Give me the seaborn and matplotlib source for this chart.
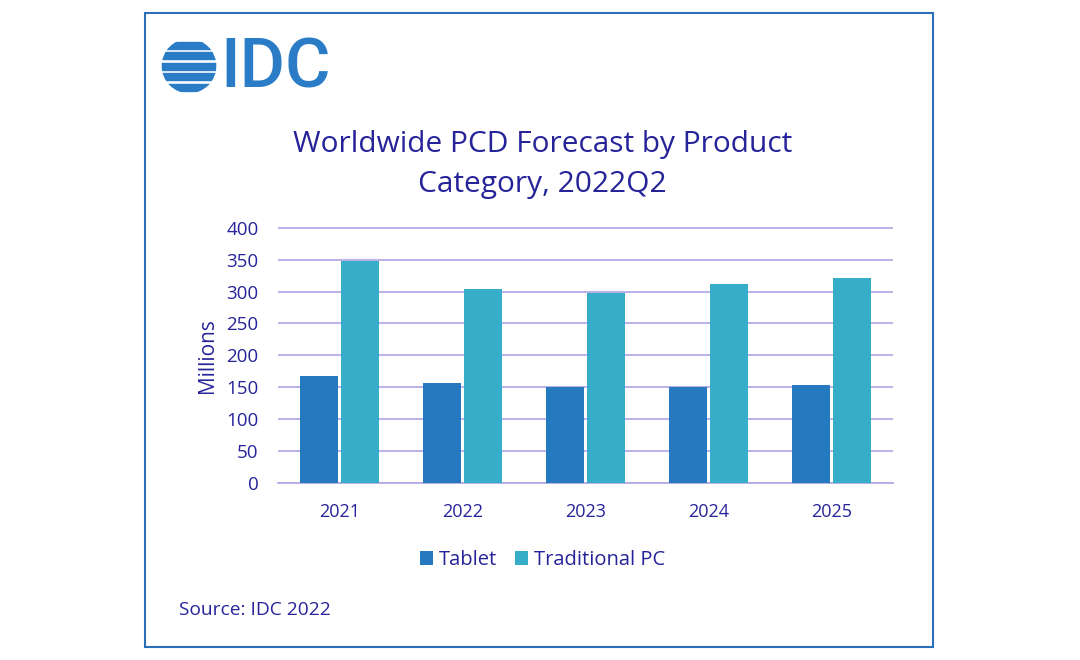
import seaborn as sns
import pandas as pd
import matplotlib.pyplot as plt
from matplotlib.patches import Rectangle, Circle

years = ["2021", "2022", "2023", "2024", "2025"]
tablet = [167, 157, 151, 151, 153]
traditional_pc = [348, 304, 297, 312, 321]
series = ["Tablet", "Traditional PC"]
colors = ["#2579be", "#36adc9"]
navy = "#27249a"

df = pd.DataFrame({
    "Year": years * 2,
    "Units": tablet + traditional_pc,
    "Product": [series[0]] * len(years) + [series[1]] * len(years),
})

sns.set_style("white")
plt.rcParams["font.family"] = ["Open Sans", "DejaVu Sans"]

fig = plt.figure(figsize=(10.8, 6.6), dpi=100)
ax = fig.add_axes([278 / 1080, 0.268, 615 / 1080, 0.388])

sns.barplot(data=df, x="Year", y="Units", hue="Product", palette=colors,
            width=0.67, gap=0.08, saturation=1, linewidth=0, ax=ax, zorder=3)

ax.set_ylim(0, 401)
ax.set_yticks(range(0, 401, 50))
ax.grid(axis="y", color="#b3aae6", linewidth=1.3, zorder=0)
for s in ["top", "right", "left"]:
    ax.spines[s].set_visible(False)
ax.spines["bottom"].set_color("#b3aae6")
ax.spines["bottom"].set_linewidth(1.3)
ax.tick_params(axis="both", length=0, labelcolor=navy)
ax.tick_params(axis="y", labelsize=13.5, pad=14)
ax.tick_params(axis="x", labelsize=13, pad=14)
ax.set_xlabel("")
ax.set_ylabel("Millions", fontsize=15, color=navy, labelpad=6)

leg = ax.legend(loc="upper center", bbox_to_anchor=(0.43, -0.19), ncol=2, frameon=False,
                fontsize=14.5, handlelength=0.65, handleheight=0.65, handletextpad=0.3,
                columnspacing=0.9)
for t in leg.get_texts():
    t.set_color(navy)

fig.text(0.502, 0.751, "Worldwide PCD Forecast by Product\nCategory, 2022Q2", ha="center",
         va="center", fontsize=21.5, color=navy, linespacing=1.5)
fig.text(0.166, 0.076, "Source: IDC 2022", fontsize=13.8, color=navy, va="center")

# frame
fig.patches.append(Rectangle((145 / 1080, 13 / 660), 788 / 1080, 634 / 660,
                             transform=fig.transFigure, fill=False,
                             edgecolor="#2a6fb8", linewidth=1.5))

# logo
logo_blue = "#2a7cc7"
fig.text(220 / 1080, 1 - 68 / 660, "IDC", fontsize=50, color=logo_blue, va="center",
         ha="left", family=["Roboto", "DejaVu Sans"], weight="medium")
lax = fig.add_axes([154 / 1080, 559 / 660, 70 / 1080, 70 / 660])
lax.set_xlim(-1, 1)
lax.set_ylim(-1, 1)
lax.set_aspect("equal")
lax.axis("off")
circ = Circle((0, 0), 0.78, transform=lax.transData)
for yy in [-0.6, -0.3, 0.0, 0.3, 0.6]:
    r = lax.add_patch(Rectangle((-1, yy - 0.1), 2, 0.2, color=logo_blue))
    r.set_clip_path(circ)

fig.savefig("out.png", dpi=100)
